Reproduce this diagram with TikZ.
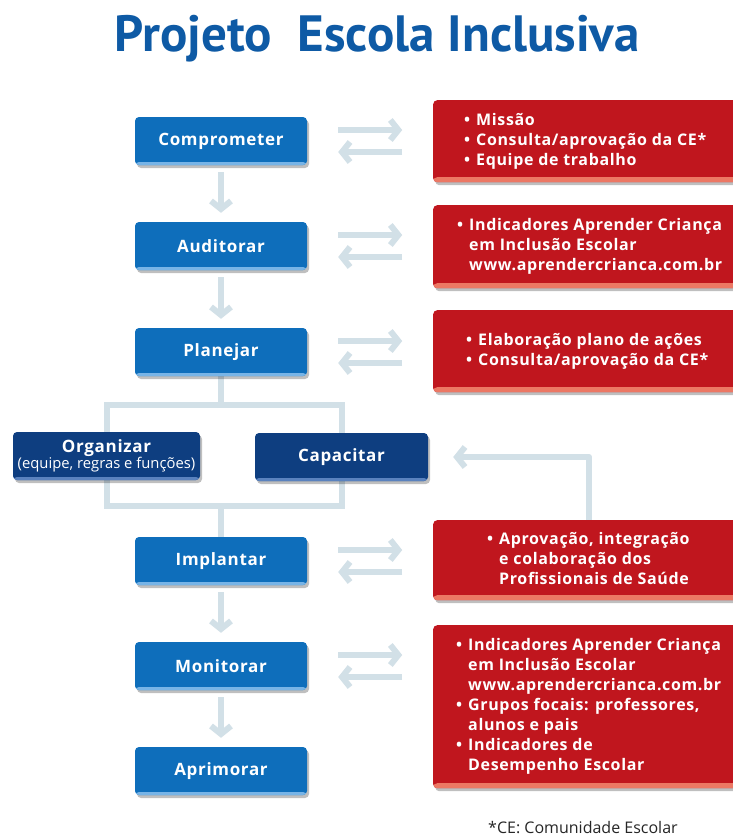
\documentclass[tikz,border=0pt]{standalone}
\usepackage{fontspec}
\setmainfont{Open Sans}
\newfontfamily\boxfont[LetterSpace=4]{Open Sans}
\newfontfamily\redfontfam[LetterSpace=4]{Open Sans}
\newfontfamily\titlefont{PT Sans}
\usetikzlibrary{arrows.meta,shadows,backgrounds}
\definecolor{bluebox}{RGB}{14,110,187}
\definecolor{bluerim}{RGB}{120,180,230}
\definecolor{darkbox}{RGB}{14,62,128}
\definecolor{darkrim}{RGB}{90,130,190}
\definecolor{redbox}{RGB}{192,22,30}
\definecolor{redrim}{RGB}{236,120,100}
\definecolor{flowc}{RGB}{210,224,231}
\definecolor{titleblue}{RGB}{14,90,165}
\tikzset{
  boxbase/.style={rounded corners=4pt, text=white, align=center, inner sep=0pt,
    drop shadow={shadow xshift=2pt, shadow yshift=-3pt, opacity=0.25, fill=black}},
  bluebox/.style={boxbase, fill=bluebox, minimum width=172pt, minimum height=48pt,
    font=\boxfont\bfseries\fontsize{17}{20}\selectfont,
    path picture={\fill[bluerim] ([yshift=-1pt]path picture bounding box.south west) rectangle ([yshift=3pt]path picture bounding box.south east);}},
  darkbox/.style={boxbase, fill=darkbox, minimum height=48pt,
    path picture={\fill[darkrim] ([yshift=-1pt]path picture bounding box.south west) rectangle ([yshift=3pt]path picture bounding box.south east);}},
  redpanel/.style={boxbase, fill=redbox, minimum width=320pt, anchor=north west,
    path picture={\fill[redrim] ([yshift=-1pt]path picture bounding box.south west) rectangle ([yshift=5pt]path picture bounding box.south east);}},
  redtext/.style={text=white, anchor=west, inner sep=0pt, align=left,
    font=\redfontfam\bfseries\fontsize{16}{20}\selectfont},
  flow/.style={draw=flowc, line width=6pt, -{Straight Barb[length=8pt,width=20pt]}},
  flowline/.style={draw=flowc, line width=6pt},
}
\newcommand{\bul}{\textbullet}
\begin{document}
\begin{tikzpicture}[x=1pt,y=-1pt]
\useasboundingbox (0,0) rectangle (732,839);

% title
\node[font=\titlefont\bfseries\fontsize{51}{55}\selectfont, text=titleblue, anchor=base, inner sep=0pt] (title) at (377,51) {Projeto\ \ Escola Inclusiva};

% left column
\node[bluebox] (comp) at (221,141) {Comprometer};
\node[bluebox] (aud) at (221,246) {Auditorar};
\node[bluebox] (plan) at (221,352) {Planejar};
\node[darkbox, minimum width=187pt] (org) at (106.5,456) {{\boxfont\bfseries\fontsize{17}{19}\selectfont Organizar}\\[-1pt]{\fontsize{14.8}{17}\selectfont (equipe, regras e funções)}};
\node[darkbox, minimum width=173pt, font=\boxfont\bfseries\fontsize{17}{20}\selectfont] (cap) at (341.5,457) {Capacitar};
\node[bluebox] (impl) at (221,561) {Implantar};
\node[bluebox] (mon) at (221,666) {Monitorar};
\node[bluebox] (apr) at (221,771) {Aprimorar};

% red panels
\node[redpanel, minimum height=82pt] (r1) at (433,100) {};
\node[redpanel, minimum height=83pt] (r2) at (433,205) {};
\node[redpanel, minimum height=82pt] (r3) at (433,310) {};
\node[redpanel, minimum height=80pt] (r4) at (433,520) {};
\node[redpanel, minimum height=163pt] (r5) at (433,625) {};

\node[redtext] (t1) at ([xshift=31pt]r1.west) {\begin{tabular}{@{}l@{\hspace{6pt}}l@{}}\bul & Missão\\ \bul & Consulta/aprovação da CE*\\ \bul & Equipe de trabalho\end{tabular}};
\node[redtext] (t2) at ([xshift=24pt]r2.west) {\begin{tabular}{@{}l@{\hspace{6pt}}l@{}}\bul & Indicadores Aprender Criança\\ & em Inclusão Escolar\\ & www.aprendercrianca.com.br\end{tabular}};
\node[redtext] (t3) at ([xshift=33pt]r3.west) {\begin{tabular}{@{}l@{\hspace{6pt}}l@{}}\bul & Elaboração plano de ações\\ \bul & Consulta/aprovação da CE*\end{tabular}};
\node[redtext] (t4) at ([xshift=54pt]r4.west) {\begin{tabular}{@{}l@{\hspace{6pt}}l@{}}\bul & Aprovação, integração\\ & e colaboração dos\\ & Profissionais de Saúde\end{tabular}};
\node[redtext] (t5) at ([xshift=23pt]r5.west) {\begin{tabular}{@{}l@{\hspace{6pt}}l@{}}\bul & Indicadores Aprender Criança\\ & em Inclusão Escolar\\ & www.aprendercrianca.com.br\\ \bul & Grupos focais: professores,\\ & alunos e pais\\ \bul & Indicadores de\\ & Desempenho Escolar\end{tabular}};

% footnote
\node[font=\fontsize{16}{18}\selectfont, text=black!85, anchor=base west, inner sep=0pt] (foot) at (488,833) {*CE: Comunidade Escolar};

% connectors
\begin{scope}[on background layer]
  \fill[white] (0,0) rectangle (732,839);
  \draw[flow, shorten <=7pt, shorten >=9pt] (comp) -- (aud);
  \draw[flow, shorten <=7pt, shorten >=9pt] (aud) -- (plan);
  \draw[flow, shorten <=7pt, shorten >=9pt] (impl) -- (mon);
  \draw[flow, shorten <=7pt, shorten >=9pt] (mon) -- (apr);
  \foreach \b in {comp,aud,plan,impl,mon}{
    \draw[flow] ([xshift=31pt,yshift=11pt]\b.east) -- ++(64,0);
    \draw[flow] ([xshift=95pt,yshift=-11pt]\b.east) -- ++(-64,0);
  }
  \coordinate (brtop) at (221,405);
  \coordinate (brbot) at (221,506);
  \draw[flowline] (plan.south) -- (brtop);
  \draw[flowline, line join=miter] (org.center |- brtop) rectangle (cap.center |- brbot);
  \draw[flowline] (brbot) -- (impl.north);
  \draw[flow, line join=round] ([xshift=156pt]r4.north west) |- ([xshift=25pt]cap.east);
\end{scope}
\end{tikzpicture}
\end{document}
